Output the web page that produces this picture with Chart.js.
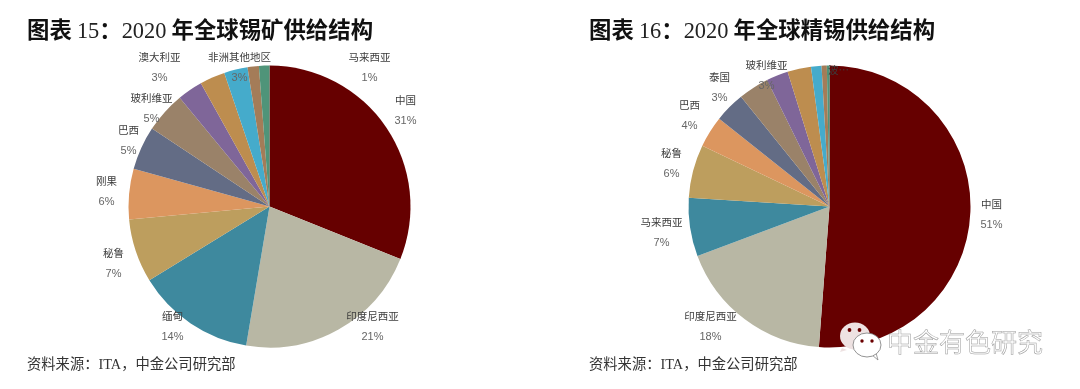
<!DOCTYPE html>
<html>
<head>
<meta charset="utf-8">
<script src="https://cdn.jsdelivr.net/npm/chart.js@4"></script>
<style>
    html, body { margin: 0; padding: 0; background: #fff; overflow: hidden; }
    #page { position: relative; width: 1080px; height: 389px; font-family: "Noto Sans CJK SC", sans-serif; }
    canvas { position: absolute; top: 0; }
    #oreChart { left: 0; }
    #refinedChart { left: 560px; }
    .title, .source { position: absolute; white-space: nowrap; color: #111; }
    .title { top: 13px; font-size: 22.4px; line-height: 30px; font-weight: 700; }
    .title span { font-family: "Liberation Serif", serif; font-weight: 400; color: #222; }
    .source { top: 353px; font-size: 14.3px; line-height: 20px; color: #333; }
    .source span { font-family: "Liberation Serif", serif; }
    #watermark { position: absolute; left: 887px; top: 323px; font-size: 26px; line-height: 36px; white-space: nowrap;
        color: rgba(255,255,255,0.85); -webkit-text-stroke: 0.5px #999; }
    #wechat { position: absolute; left: 838px; top: 320px; }
</style>
</head>
<body>
<div id="page">
    <canvas id="oreChart" width="539" height="389"></canvas>
    <canvas id="refinedChart" width="539" height="389"></canvas>
    <div class="title" style="left:27px">图表 <span>15</span>：<span>2020</span> 年全球锡矿供给结构</div>
    <div class="title" style="left:589px">图表 <span>16</span>：<span>2020</span> 年全球精锡供给结构</div>
    <div class="source" style="left:27px">资料来源：<span>ITA</span>，中金公司研究部</div>
    <div class="source" style="left:589px">资料来源：<span>ITA</span>，中金公司研究部</div>
    <svg id="wechat" width="48" height="44" viewBox="0 0 48 44">
        <path d="M4 28 L2 32 L9 30 Z" fill="#eee2e2"/>
        <ellipse cx="17" cy="16" rx="15" ry="13.5" fill="#eee2e2"/>
        <circle cx="11.5" cy="10" r="1.9" fill="#6b0000"/><circle cx="21.5" cy="10" r="1.9" fill="#6b0000"/>
        <path d="M34 35 L40 40 L38 33 Z" fill="#fff" stroke="#777" stroke-width="0.7"/>
        <ellipse cx="29" cy="25" rx="14" ry="12" fill="#fff" stroke="#777" stroke-width="0.8"/>
        <circle cx="24" cy="21" r="1.7" fill="#6b0000"/><circle cx="34" cy="21" r="1.7" fill="#6b0000"/>
    </svg>
    <div id="watermark">中金有色研究</div>
</div>
<script>
// slice colours, same order in both pies
const sliceColors = ['#660000', '#b8b7a4', '#3e899e', '#bd9e5e', '#dc965f', '#636c85',
    '#9a8269', '#7f6699', '#bd8d4f', '#45abcb', '#a47c58', '#4f9479'];

// Figure 15: tin ore
const oreCategories = ['中国', '印度尼西亚', '缅甸', '秘鲁', '刚果', '巴西', '玻利维亚', '澳大利亚', '非洲其他地区', '马来西亚', '其他1', '其他2'];
const oreValues = [31.1, 21.6, 13.6, 7.3, 5.8, 5.0, 4.7, 2.9, 2.9, 2.7, 1.3, 1.2];
const orePercentLabels = ['31%', '21%', '14%', '7%', '6%', '5%', '5%', '3%', '3%', '1%', '', ''];
// label offset from the pie centre
const oreLabelOffsets = [[136, -106], [103, 110], [-97, 110], [-156, 47], [-163, -25], [-141, -76],
    [-118, -108], [-110, -149], [-30, -149], [100, -149], null, null];

// Figure 16: refined tin
const refinedCategories = ['中国', '印度尼西亚', '马来西亚', '秘鲁', '其他1', '巴西', '泰国', '玻利维亚', '其他2', '其他3', '其他4', '波…'];
const refinedValues = [51.2, 18.1, 6.7, 6.1, 3.6, 3.5, 3.5, 2.5, 2.7, 1.2, 0.6, 0.3];
const refinedPercentLabels = ['51%', '18%', '7%', '6%', '', '4%', '3%', '3%', '', '', '', ''];
const refinedLabelOffsets = [[162, -2], [-119, 110], [-168, 16], [-158, -53], null, [-140, -101],
    [-110, -129], [-63, -141], null, null, null, [9, -136]];

// Draws the category and percent labels on top of the pie
function sliceLabels(categories, percents, offsets) {
    return {
        id: 'sliceLabels',
        afterDatasetsDraw(chart) {
            const ctx = chart.ctx;
            const arc = chart.getDatasetMeta(0).data[0];
            ctx.save();
            ctx.textAlign = 'center';
            ctx.textBaseline = 'middle';
            offsets.forEach((offset, i) => {
                if (!offset) return;
                const x = arc.x + offset[0];
                const y = arc.y + offset[1];
                ctx.font = '10.5px "Noto Sans CJK SC", sans-serif';
                ctx.fillStyle = '#3c3c3c';
                ctx.fillText(categories[i], x, y);
                ctx.font = '11px "Liberation Sans", sans-serif';
                ctx.fillStyle = '#666666';
                ctx.fillText(percents[i], x, y + 20);
            });
            ctx.restore();
        }
    };
}

function drawPie(canvasId, categories, values, percents, offsets) {
    const ctx = document.getElementById(canvasId).getContext('2d');
    return new Chart(ctx, {
        type: 'pie',
        data: {
            labels: categories,
            datasets: [{
                data: values,
                backgroundColor: sliceColors,
                borderWidth: 0
            }]
        },
        options: {
            responsive: false,
            animation: false,
            radius: 141,
            layout: { padding: { top: 24 } },
            plugins: {
                legend: { display: false },
                tooltip: { enabled: false }
            }
        },
        plugins: [sliceLabels(categories, percents, offsets)]
    });
}

drawPie('oreChart', oreCategories, oreValues, orePercentLabels, oreLabelOffsets);
drawPie('refinedChart', refinedCategories, refinedValues, refinedPercentLabels, refinedLabelOffsets);
</script>
</body>
</html>
